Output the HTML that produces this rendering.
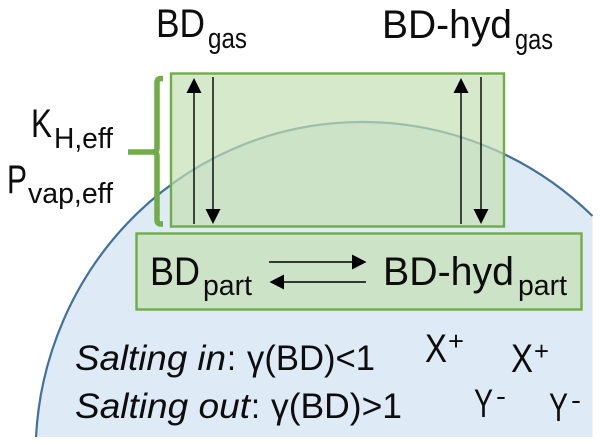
<!DOCTYPE html>
<html><head><meta charset="utf-8"><style>
html,body{margin:0;padding:0;background:#fff;width:600px;height:445px;overflow:hidden}
svg{display:block}
text{font-family:"Liberation Sans",sans-serif;fill:#0d0d0d}
</style></head><body>
<svg width="600" height="445" viewBox="0 0 600 445" xmlns="http://www.w3.org/2000/svg">
<path d="M36 437A326 333 0 0 1 362 122A330 333 0 0 1 592.500 216V437Z" fill="#deeaf6"/>
<path d="M36 437A326 333 0 0 1 362 122A330 333 0 0 1 592.500 216" fill="none" stroke="#41719c" stroke-width="2.200"/>
<rect x="171" y="73.500" width="333" height="153" fill="#c5e0b4" fill-opacity=".7" stroke="#70ad47" stroke-width="2.400"/>
<rect x="136.500" y="233.500" width="445" height="76" fill="#c5e0b4" fill-opacity=".7" stroke="#70ad47" stroke-width="2.400"/>
<path d="M163 78.500h-2q-4 0-4 4V148q0 4-4 4h-25M153 152q4 0 4 4V220q0 4 4 4h2" fill="none" stroke="#70ad47" stroke-width="5.500"/>
<g stroke="#000" stroke-width="1.400" fill="none">
<path d="M194 224V90M213 77V212M461 224V90M481 77V212M269 262H355M366 282H281"/>
</g>
<g fill="#000">
<path d="M194 78l-7.500 15h15zM213 224l-7.500-15h15zM461 78l-7.500 15h15zM481 224l-7.500-15h15zM366.500 262l-14.500-7.500v15zM269.500 282l14.500-7.500v15z"/>
</g>
<text x="156" y="37" font-size="40" textLength="49" lengthAdjust="spacingAndGlyphs">BD</text>
<text x="208" y="48" font-size="29" textLength="39" lengthAdjust="spacingAndGlyphs">gas</text>
<text x="382" y="38" font-size="40" textLength="130" lengthAdjust="spacingAndGlyphs">BD-hyd</text>
<text x="515" y="49" font-size="29" textLength="38" lengthAdjust="spacingAndGlyphs">gas</text>
<text x="31" y="137" font-size="40" textLength="21" lengthAdjust="spacingAndGlyphs">K</text>
<text x="54" y="148" font-size="29" textLength="59" lengthAdjust="spacingAndGlyphs">H,eff</text>
<text x="7" y="193" font-size="40" textLength="20" lengthAdjust="spacingAndGlyphs">P</text>
<text x="28" y="203" font-size="29" textLength="85" lengthAdjust="spacingAndGlyphs">vap,eff</text>
<text x="150" y="285" font-size="40" textLength="50" lengthAdjust="spacingAndGlyphs">BD</text>
<text x="203" y="295" font-size="29" textLength="49" lengthAdjust="spacingAndGlyphs">part</text>
<text x="383" y="285" font-size="40" textLength="131" lengthAdjust="spacingAndGlyphs">BD-hyd</text>
<text x="518" y="295" font-size="29" textLength="49" lengthAdjust="spacingAndGlyphs">part</text>
<text x="75" y="370" font-size="35" font-style="italic" textLength="151" lengthAdjust="spacingAndGlyphs">Salting in</text>
<text x="227" y="370" font-size="35" textLength="9" lengthAdjust="spacingAndGlyphs">:</text>
<text x="247" y="370" font-size="35" textLength="128" lengthAdjust="spacingAndGlyphs">γ(BD)&lt;1</text>
<text x="75" y="418" font-size="35" font-style="italic" textLength="175" lengthAdjust="spacingAndGlyphs">Salting out</text>
<text x="251" y="418" font-size="35" textLength="9" lengthAdjust="spacingAndGlyphs">:</text>
<text x="271" y="418" font-size="35" textLength="131" lengthAdjust="spacingAndGlyphs">γ(BD)&gt;1</text>
<text x="425" y="362" font-size="40" textLength="22" lengthAdjust="spacingAndGlyphs">X</text>
<text x="448" y="350" font-size="26" textLength="16" lengthAdjust="spacingAndGlyphs">+</text>
<text x="511" y="372" font-size="40" textLength="22" lengthAdjust="spacingAndGlyphs">X</text>
<text x="534" y="360" font-size="26" textLength="15" lengthAdjust="spacingAndGlyphs">+</text>
<text x="474" y="417" font-size="40" textLength="19" lengthAdjust="spacingAndGlyphs">Y</text>
<text x="496" y="405" font-size="26" textLength="10" lengthAdjust="spacingAndGlyphs">-</text>
<text x="549" y="421" font-size="40" textLength="19" lengthAdjust="spacingAndGlyphs">Y</text>
<text x="571" y="409" font-size="26" textLength="10" lengthAdjust="spacingAndGlyphs">-</text>
</svg>
</body></html>
